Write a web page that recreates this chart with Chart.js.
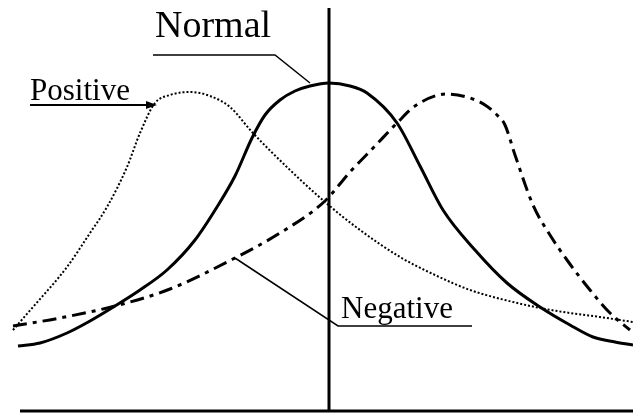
<!DOCTYPE html>
<html>
<head>
<meta charset="utf-8">
<script src="https://cdn.jsdelivr.net/npm/chart.js@4"></script>
<style>
  html, body { margin: 0; padding: 0; background: #fff; }
  #wrap { width: 633px; height: 414px; }
</style>
</head>
<body>
<div id="wrap"><canvas id="skew-chart" width="633" height="414"></canvas></div>
<script>
// x = horizontal position, y = height above the bottom (both in plot units, 0..633 / 0..414)
const normalX   = [18, 40, 67, 90, 115, 140, 167, 195, 217, 235, 252, 265, 280, 295, 310, 329, 350, 367, 397, 420, 443, 475, 507, 540, 570, 593, 615, 633];
const normalY   = [68, 71, 81, 93, 108, 124, 144, 174, 207, 238, 276, 299, 314, 323, 328, 331, 328, 321, 291, 248, 204, 164, 131, 107, 89, 77, 72, 69];

const positiveX = [13, 33, 67, 90, 107, 127, 140, 155, 170, 190, 210, 230, 252, 290, 325, 360, 400, 435, 470, 505, 540, 570, 600, 633];
const positiveY = [84, 107, 147, 181, 207, 247, 281, 311, 319, 322, 318, 307, 282, 244, 212, 184, 157, 139, 124, 114, 106, 101, 97, 92];

const negativeX = [13, 60, 115, 170, 233, 280, 325, 350, 375, 397, 415, 447, 470, 485, 497, 505, 515, 533, 550, 567, 590, 610, 630];
const negativeY = [88, 96, 108, 125, 155, 181, 213, 242, 268, 291, 308, 320, 316, 309, 299, 289, 259, 209, 179, 154, 124, 101, 84];

const axisX = [20, 633];
const meanX = 329;

function toPoints(xs, ys) {
    return xs.map((x, i) => ({ x: x, y: ys[i] }));
}

const labelsPlugin = {
    id: "curveLabels",
    afterDatasetsDraw(chart) {
        const ctx = chart.ctx;
        const sx = chart.scales.x;
        const sy = chart.scales.y;
        const px = (v) => sx.getPixelForValue(v);
        const py = (v) => sy.getPixelForValue(v);

        ctx.save();
        ctx.fillStyle = "#000";
        ctx.strokeStyle = "#000";
        ctx.textBaseline = "alphabetic";

        // Normal
        ctx.font = "38px 'Liberation Serif', 'Times New Roman', serif";
        ctx.fillText("Normal", px(155), py(377));
        ctx.lineWidth = 1.5;
        ctx.beginPath();
        ctx.moveTo(px(153), py(359));
        ctx.lineTo(px(275), py(359));
        ctx.lineTo(px(310), py(331));
        ctx.stroke();

        // Positive
        ctx.font = "31px 'Liberation Serif', 'Times New Roman', serif";
        ctx.fillText("Positive", px(30), py(314));
        ctx.lineWidth = 2;
        ctx.beginPath();
        ctx.moveTo(px(30), py(309));
        ctx.lineTo(px(150), py(309));
        ctx.stroke();
        ctx.beginPath();
        ctx.moveTo(px(157), py(309));
        ctx.lineTo(px(146), py(313));
        ctx.lineTo(px(146), py(305));
        ctx.closePath();
        ctx.fill();

        // Negative
        ctx.fillText("Negative", px(341), py(96));
        ctx.lineWidth = 1.5;
        ctx.beginPath();
        ctx.moveTo(px(235), py(156));
        ctx.lineTo(px(338), py(88));
        ctx.lineTo(px(472), py(88));
        ctx.stroke();
        ctx.restore();
    },
};

new Chart(document.getElementById("skew-chart"), {
    type: "scatter",
    data: {
        datasets: [
            {
                label: "Normal",
                data: toPoints(normalX, normalY),
                showLine: true,
                borderColor: "#000",
                borderWidth: 3,
                pointRadius: 0,
                cubicInterpolationMode: "monotone",
            },
            {
                label: "Positive",
                data: toPoints(positiveX, positiveY),
                showLine: true,
                borderColor: "#000",
                borderWidth: 2,
                borderDash: [2, 2],
                pointRadius: 0,
                cubicInterpolationMode: "monotone",
            },
            {
                label: "Negative",
                data: toPoints(negativeX, negativeY),
                showLine: true,
                borderColor: "#000",
                borderWidth: 3,
                borderDash: [14, 6, 4, 6],
                pointRadius: 0,
                cubicInterpolationMode: "monotone",
            },
            {
                label: "Mean",
                data: [{ x: meanX, y: 3 }, { x: meanX, y: 406 }],
                showLine: true,
                borderColor: "#000",
                borderWidth: 3,
                pointRadius: 0,
            },
            {
                label: "Axis",
                data: [{ x: axisX[0], y: 3 }, { x: axisX[1], y: 3 }],
                showLine: true,
                borderColor: "#000",
                borderWidth: 3,
                pointRadius: 0,
            },
        ],
    },
    options: {
        responsive: false,
        animation: false,
        layout: { padding: 0 },
        scales: {
            x: { type: "linear", min: 0, max: 633, display: false },
            y: { type: "linear", min: 0, max: 414, display: false },
        },
        plugins: {
            legend: { display: false },
            tooltip: { enabled: false },
        },
    },
    plugins: [labelsPlugin],
});
</script>
</body>
</html>
